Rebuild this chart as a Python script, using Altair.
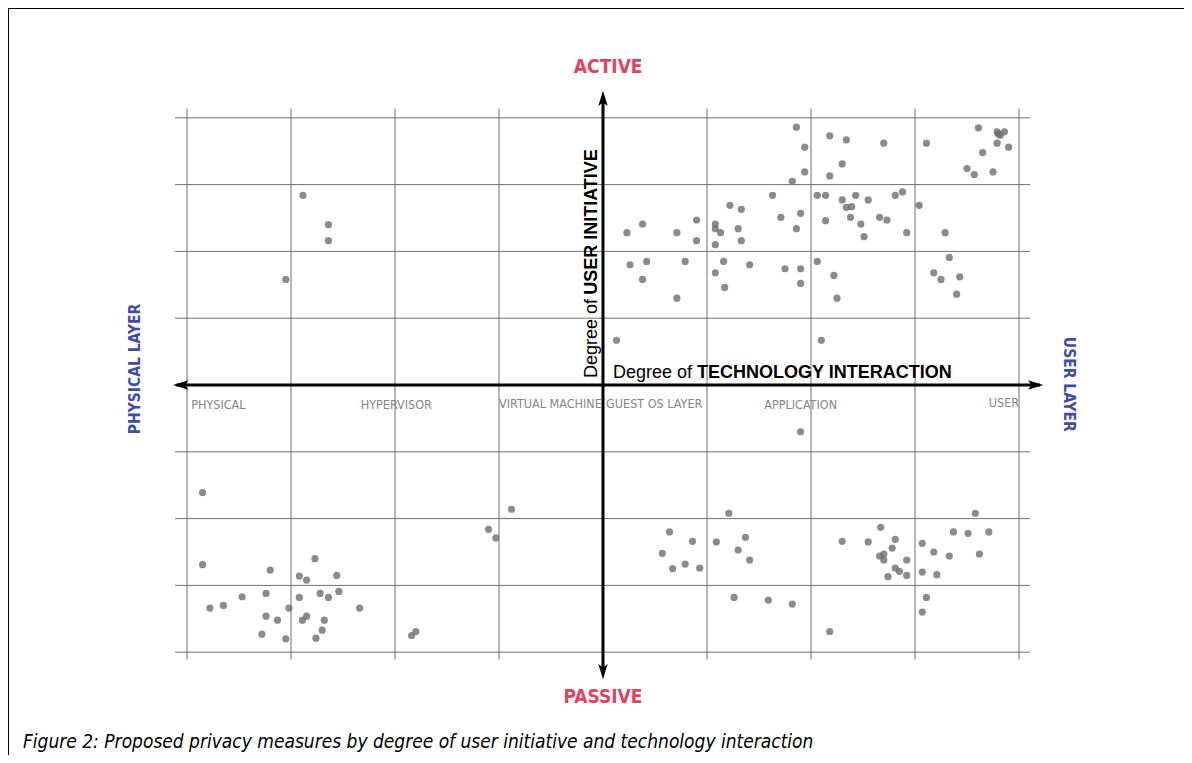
import altair as alt
import pandas as pd

# ---------------- data (grid units: one cell = 1) ----------------
# upper-left quadrant (active / lower layers)
ul_x = [-2.885, -2.64, -2.64, -3.05]
ul_y = [2.84, 2.40, 2.16, 1.58]

# upper-right quadrant (active / upper layers)
ur_x = [1.86, 1.94, 1.94, 1.82, 2.18, 2.34, 2.70, 2.30, 2.18, 3.11,
        3.61, 3.79, 3.82, 3.86, 3.79, 3.90, 3.65, 3.50, 3.57, 3.75, 3.80,
        1.63, 2.06, 2.14, 2.30, 2.43, 2.55, 2.81, 2.88, 3.04, 2.34, 2.39,
        1.71, 1.90, 2.14, 2.38, 2.66, 2.73, 2.48, 2.51, 2.92, 1.86,
        1.22, 1.33, 0.90, 1.08, 1.08, 1.13, 1.30, 1.33, 0.90, 1.08,
        0.38, 0.23, 0.71, 3.29,
        0.26, 0.42, 0.38, 0.79, 0.71, 1.08, 1.16, 1.17, 1.41, 1.75, 1.90,
        1.90, 2.06, 2.22, 2.25, 3.33, 3.18, 3.25, 3.43, 3.40,
        0.13, 2.10]
ur_y = [3.86, 3.56, 3.19, 3.05, 3.73, 3.67, 3.62, 3.31, 3.13, 3.62,
        3.85, 3.79, 3.74, 3.79, 3.62, 3.56, 3.48, 3.24, 3.15, 3.19, 3.76,
        2.84, 2.84, 2.84, 2.77, 2.84, 2.77, 2.84, 2.89, 2.69, 2.66, 2.67,
        2.51, 2.57, 2.46, 2.51, 2.51, 2.47, 2.41, 2.22, 2.28, 2.34,
        2.69, 2.63, 2.47, 2.41, 2.34, 2.28, 2.34, 2.16, 2.16, 2.10,
        2.41, 2.28, 2.28, 2.28,
        1.80, 1.85, 1.58, 1.85, 1.30, 1.68, 1.85, 1.46, 1.80, 1.74, 1.74,
        1.52, 1.85, 1.64, 1.30, 1.91, 1.68, 1.58, 1.62, 1.36,
        0.67, 0.67]

# lower-left quadrant (passive / lower layers)
ll_x = [-3.85, -0.88, -1.10, -1.03, -3.85, -3.20, -2.77, -2.92, -2.85, -2.56,
        -3.24, -3.47, -3.65, -3.78, -2.92, -2.72, -2.64, -2.54, -3.02, -2.34,
        -3.24, -3.13, -2.85, -2.89, -2.68, -2.70, -3.28, -3.05, -2.76,
        -1.80, -1.84]
ll_y = [-1.61, -1.86, -2.16, -2.29, -2.69, -2.77, -2.60, -2.86, -2.92, -2.85,
        -3.12, -3.17, -3.30, -3.34, -3.18, -3.12, -3.18, -3.09, -3.34, -3.34,
        -3.46, -3.52, -3.46, -3.52, -3.52, -3.67, -3.73, -3.80, -3.79,
        -3.69, -3.75]

# lower-right quadrant (passive / upper layers)
lr_x = [1.90, 1.21, 0.64, 0.86, 0.57, 0.79, 0.67, 0.93, 1.09, 1.37, 1.30,
        1.41, 1.26, 1.59, 1.82, 2.18, 2.30, 2.55, 2.67, 2.81, 2.78, 2.66,
        2.70, 2.70, 2.92, 2.81, 2.85, 2.74, 2.92, 3.07, 3.18, 3.33, 3.07,
        3.21, 3.11, 3.07, 3.37, 3.51, 3.71, 3.58, 3.62]
lr_y = [-0.70, -1.92, -2.20, -2.34, -2.52, -2.68, -2.75, -2.74, -2.35, -2.28,
        -2.47, -2.62, -3.18, -3.22, -3.28, -3.69, -2.34, -2.35, -2.13, -2.31,
        -2.44, -2.56, -2.53, -2.62, -2.62, -2.74, -2.79, -2.87, -2.85, -2.37,
        -2.50, -2.56, -2.80, -2.84, -3.18, -3.40, -2.20, -2.22, -2.20, -1.92,
        -2.53]

grid_ticks = [-4, -3, -2, -1, 0, 1, 2, 3, 4]

layer_names = ["PHYSICAL", "HYPERVISOR", "VIRTUAL MACHINE", "GUEST OS LAYER",
               "APPLICATION", "USER"]
layer_x = [-3.96, -2.33, -1.00, 0.03, 1.55, 3.71]
layer_y = [-0.36, -0.36, -0.34, -0.34, -0.36, -0.33]

caption = ("Figure 2: Proposed privacy measures by degree of user "
           "initiative and technology interaction")

# ---------------- layout ----------------
W, H = 1176, 747
PX_X, PX_Y = 104.0, 66.8
X0, Y0 = 595.0, 377.0
xs = alt.Scale(domain=[-X0 / PX_X, (W - X0) / PX_X], nice=False, zero=False)
ys = alt.Scale(domain=[(Y0 - H) / PX_Y, Y0 / PX_Y], nice=False, zero=False)

NARROW = "DejaVu Sans Condensed, sans-serif"
SANS = "Liberation Sans, Arial, sans-serif"


def X(f):
    return alt.X(f, type="quantitative", scale=xs, axis=None)


def Y(f):
    return alt.Y(f, type="quantitative", scale=ys, axis=None)


pts = pd.DataFrame({
    "x": ul_x + ur_x + ll_x + lr_x,
    "y": ul_y + ur_y + ll_y + lr_y,
})

grid_v = pd.DataFrame({"gx": grid_ticks, "lo": -4.11, "hi": 4.14})
grid_h = pd.DataFrame({"gy": grid_ticks, "lo": -4.115, "hi": 4.106})

one = pd.DataFrame({"k": [0]})

frame_left = alt.Chart(one).mark_rule(color="black", strokeWidth=1).encode(
    x=alt.value(0.5), y=alt.value(0), y2=alt.value(H))
frame_top = alt.Chart(one).mark_rule(color="black", strokeWidth=1).encode(
    y=alt.value(0.5), x=alt.value(0), x2=alt.value(W))

gv = alt.Chart(grid_v).mark_rule(color="#707070", strokeWidth=1).encode(
    x=X("gx"), y=Y("lo"), y2="hi")
gh = alt.Chart(grid_h).mark_rule(color="#707070", strokeWidth=1).encode(
    y=Y("gy"), x=X("lo"), x2="hi")

dots = alt.Chart(pts).mark_circle(size=52, color="#6e6e6e", opacity=0.8).encode(
    x=X("x"), y=Y("y"))

axis_h = alt.Chart(pd.DataFrame({"a": [-4.10], "b": [4.20], "c": [0]})).mark_rule(
    color="black", strokeWidth=3).encode(x=X("a"), x2="b", y=Y("c"))
axis_v = alt.Chart(pd.DataFrame({"a": [-4.28], "b": [4.28], "c": [0]})).mark_rule(
    color="black", strokeWidth=3).encode(y=Y("a"), y2="b", x=X("c"))

arrows = pd.DataFrame({
    "x": [0, 0, -4.06, 4.16],
    "y": [4.29, -4.29, 0, 0],
    "ang": [0, 180, 270, 90],
})
heads = alt.Chart(arrows).mark_point(
    shape="M0,-1L0.62,1L0,0.55L-0.62,1Z", filled=True, color="black",
    opacity=1, size=230, strokeWidth=0).encode(
    x=X("x"), y=Y("y"), angle=alt.Angle("ang:Q", scale=None))

red = pd.DataFrame({"t": ["ACTIVE", "PASSIVE"], "x": [0.05, 0.0], "y": [4.76, -4.67]})
red_txt = alt.Chart(red).mark_text(
    font=NARROW, fontSize=19, fontWeight="bold", color="#e2445f",
    baseline="middle", align="center").encode(x=X("x"), y=Y("y"), text="t:N")

blue_l = alt.Chart(pd.DataFrame({"t": ["PHYSICAL LAYER"], "x": [-4.50], "y": [0.24]})).mark_text(
    font=NARROW, fontSize=15.5, fontWeight="bold", color="#3e4ea6", angle=270,
    baseline="middle", align="center").encode(x=X("x"), y=Y("y"), text="t:N")
blue_r = alt.Chart(pd.DataFrame({"t": ["USER LAYER"], "x": [4.48], "y": [0.01]})).mark_text(
    font=NARROW, fontSize=15.5, fontWeight="bold", color="#3e4ea6", angle=90,
    baseline="middle", align="center").encode(x=X("x"), y=Y("y"), text="t:N")

v1 = alt.Chart(pd.DataFrame({"t": ["Degree of"], "x": [-0.058], "y": [0.105]})).mark_text(
    font=SANS, fontSize=18, color="black", angle=270, align="left",
    baseline="alphabetic").encode(x=X("x"), y=Y("y"), text="t:N")
v2 = alt.Chart(pd.DataFrame({"t": ["USER INITIATIVE"], "x": [-0.058], "y": [1.35]})).mark_text(
    font=SANS, fontSize=18, fontWeight="bold", color="black", angle=270, align="left",
    baseline="alphabetic").encode(x=X("x"), y=Y("y"), text="t:N")

h1 = alt.Chart(pd.DataFrame({"t": ["Degree of"], "x": [0.096], "y": [0.105]})).mark_text(
    font=SANS, fontSize=18, color="black", align="left",
    baseline="alphabetic").encode(x=X("x"), y=Y("y"), text="t:N")
h2 = alt.Chart(pd.DataFrame({"t": ["TECHNOLOGY INTERACTION"], "x": [0.904], "y": [0.105]})).mark_text(
    font=SANS, fontSize=18, fontWeight="bold", color="black", align="left",
    baseline="alphabetic").encode(x=X("x"), y=Y("y"), text="t:N")

layers_df = pd.DataFrame({"t": layer_names, "x": layer_x, "y": layer_y})
layer_txt = alt.Chart(layers_df).mark_text(
    font=NARROW, fontSize=12.5, color="#858585", align="left",
    baseline="alphabetic").encode(x=X("x"), y=Y("y"), text="t:N")

cap = alt.Chart(pd.DataFrame({"t": [caption]})).mark_text(
    font=NARROW, fontSize=19, fontStyle="italic", color="black", align="left",
    baseline="alphabetic").encode(x=alt.value(15), y=alt.value(740), text="t:N")

chart = alt.layer(
    frame_left, frame_top, gv, gh, dots, axis_h, axis_v, heads,
    red_txt, blue_l, blue_r, v1, v2, h1, h2, layer_txt, cap
).properties(
    width=W, height=H, padding=0,
    autosize=alt.AutoSizeParams(type="none"),
    background="white",
).configure_view(stroke=None)

chart.save("out.html", embed_options={"renderer": "svg", "actions": False})
